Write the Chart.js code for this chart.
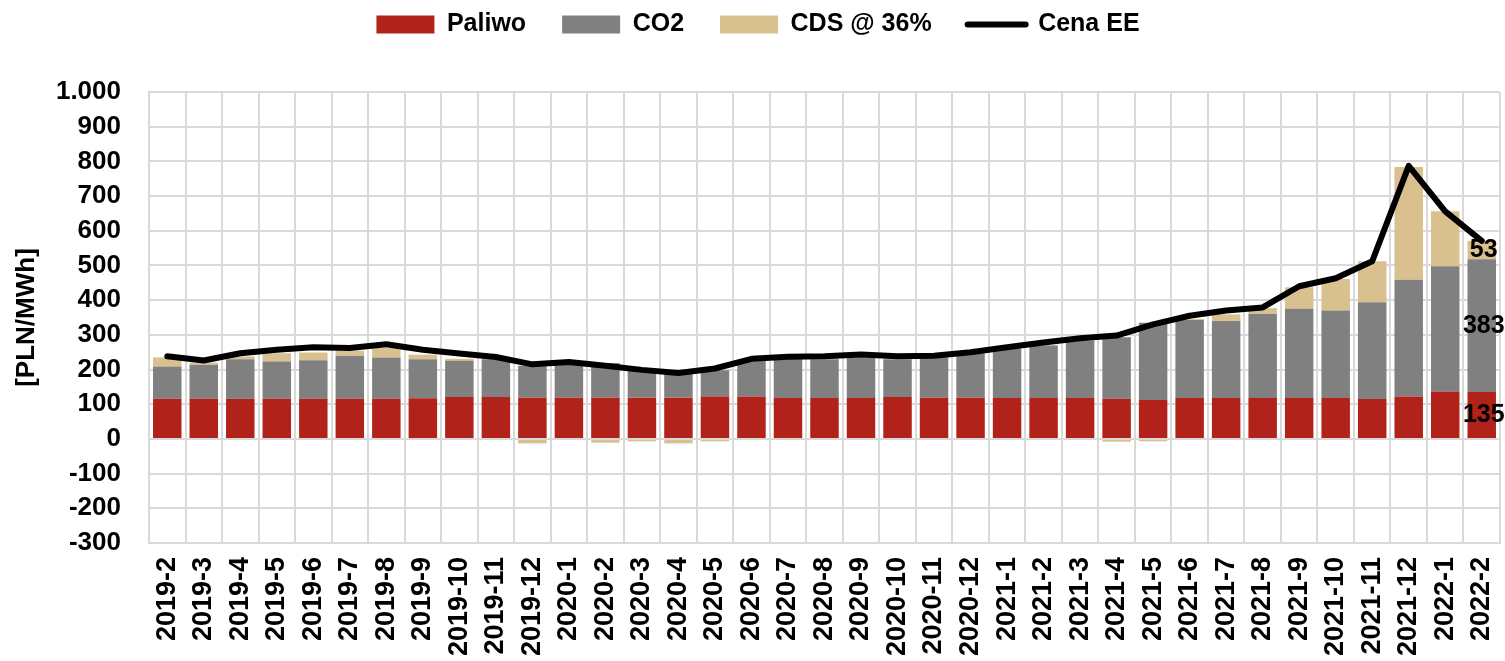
<!DOCTYPE html>
<html>
<head>
<meta charset="utf-8">
<script src="https://cdn.jsdelivr.net/npm/chart.js@4.4.1/dist/chart.umd.min.js"></script>
<style>
  html, body { margin: 0; padding: 0; background: #ffffff; }
  #wrap { width: 1505px; height: 661px; position: relative; }
</style>
</head>
<body>
<div id="wrap"><canvas id="c" width="1505" height="661"></canvas></div>
<script>
const categories = [
  '2019-2','2019-3','2019-4','2019-5','2019-6','2019-7','2019-8','2019-9','2019-10','2019-11','2019-12',
  '2020-1','2020-2','2020-3','2020-4','2020-5','2020-6','2020-7','2020-8','2020-9','2020-10','2020-11','2020-12',
  '2021-1','2021-2','2021-3','2021-4','2021-5','2021-6','2021-7','2021-8','2021-9','2021-10','2021-11','2021-12',
  '2022-1','2022-2'
];
const paliwo = [
  116,116,116,116,116,116,116,117,121,121,119,
  119,119,119,119,122,122,118,118,118,121,119,119,
  118,118,118,116,112,118,118,118,118,118,115,122,
  137,135
];
const co2 = [
  93,98,114,107,111,124,119,113,104,109,92,
  102,100,78,68,76,103,117,112,117,109,116,128,
  141,151,165,177,223,225,222,242,257,252,279,337,
  361,383
];
const cds = [
  26,6,8,24,22,14,27,13,6,2,-13,
  2,-11,-7,-13,-7,3,-2,2,2,2,2,2,
  2,2,2,-8,-7,3,19,17,62,91,118,325,
  158,53
];
const cenaEE = [
  238,226,247,257,264,262,273,257,246,236,215,
  222,211,199,190,203,231,237,238,243,238,240,250,
  264,278,290,298,330,355,370,379,440,463,512,787,
  656,571
];
const yTicks = [-300,-200,-100,0,100,200,300,400,500,600,700,800,900,1000];

const FONT = "'Liberation Sans', Arial, sans-serif";
Chart.defaults.font.family = FONT;
Chart.defaults.font.weight = 'bold';
Chart.defaults.color = '#000000';

function fmt(v) {
  const s = Math.abs(v).toString();
  const withSep = s.length > 3 ? s.slice(0, s.length - 3) + '.' + s.slice(s.length - 3) : s;
  return (v < 0 ? '-' : '') + withSep;
}

const lastLabels = {
  id: 'lastLabels',
  afterDatasetsDraw(chart) {
    const ctx = chart.ctx;
    ctx.save();
    ctx.font = "bold 25px " + FONT;
    ctx.fillStyle = '#000000';
    ctx.textAlign = 'center';
    ctx.textBaseline = 'middle';
    [0, 1, 2].forEach(di => {
      const meta = chart.getDatasetMeta(di);
      const idx = meta.data.length - 1;
      const el = meta.data[idx];
      const val = chart.data.datasets[di].data[idx];
      ctx.fillText(String(val), el.x + 2, (el.y + el.base) / 2);
    });
    ctx.restore();
  }
};

const legendShift = {
  id: 'legendShift',
  beforeLayout(chart) {
    const lg = chart.legend;
    if (lg && !lg._patched) {
      const orig = lg.fit;
      lg.fit = function () { orig.call(this); this.height = 92; };
      lg._patched = true;
    }
  },
  afterLayout(chart) {
    const lg = chart.legend;
    lg.top -= 24; lg.bottom -= 24;
    lg.left += 8; lg.right += 8;
  }
};

new Chart(document.getElementById('c'), {
  type: 'bar',
  data: {
    labels: categories,
    datasets: [
      { label: 'Paliwo', data: paliwo, backgroundColor: '#B1231A', stack: 'a', order: 2,
        categoryPercentage: 1.0, barPercentage: 0.78 },
      { label: 'CO2', data: co2, backgroundColor: '#808080', stack: 'a', order: 2,
        categoryPercentage: 1.0, barPercentage: 0.78 },
      { label: 'CDS @ 36%', data: cds, backgroundColor: '#D9C18F', stack: 'a', order: 2,
        categoryPercentage: 1.0, barPercentage: 0.78 },
      { label: 'Cena EE', data: cenaEE, type: 'line', stack: 'b', order: 0,
        borderColor: '#000000', backgroundColor: '#000000', borderWidth: 6,
        pointRadius: 0, tension: 0, borderJoinStyle: 'round', borderCapStyle: 'round',
        pointStyle: 'line' }
    ]
  },
  options: {
    responsive: false,
    animation: false,
    layout: { padding: { left: 0, right: 5, top: 0, bottom: 0 } },
    plugins: {
      tooltip: { enabled: false },
      legend: {
        position: 'top',
        align: 'center',
        labels: {
          font: { size: 25, weight: 'bold', family: FONT },
          color: '#000000',
          usePointStyle: true,
          pointStyleWidth: 58,
          boxHeight: 18,
          padding: 36,
          generateLabels(chart) {
            return chart.data.datasets.map((ds, i) => ({
              text: ds.label,
              fillStyle: ds.type === 'line' ? '#000000' : ds.backgroundColor,
              strokeStyle: ds.type === 'line' ? '#000000' : ds.backgroundColor,
              lineWidth: ds.type === 'line' ? 6 : 0,
              pointStyle: ds.type === 'line' ? 'line' : 'rect',
              lineCap: 'round',
              hidden: false,
              datasetIndex: i,
              fontColor: '#000000'
            }));
          }
        }
      }
    },
    scales: {
      x: {
        stacked: true,
        offset: true,
        grid: { offset: true, color: '#D9D9D9', lineWidth: 2, drawTicks: false },
        border: { color: '#D9D9D9', width: 2 },
        ticks: {
          autoSkip: false, maxRotation: 90, minRotation: 90, padding: 14,
          font: { size: 27, weight: 'bold', family: FONT }, color: '#000000'
        },
        afterFit(scale) {
          scale.height = 118;
          scale.paddingLeft = 0;
          scale.paddingRight = 0;
        }
      },
      y: {
        stacked: true,
        min: -300, max: 1000,
        afterBuildTicks(scale) { scale.ticks = yTicks.map(v => ({ value: v })); },
        grid: { color: '#D9D9D9', lineWidth: 2, drawTicks: false },
        border: { color: '#D9D9D9', width: 2 },
        ticks: {
          padding: 28,
          font: { size: 26, weight: 'bold', family: FONT }, color: '#000000',
          callback: (v) => fmt(v)
        },
        title: {
          display: true, text: '[PLN/MWh]', color: '#000000',
          font: { size: 26, weight: 'bold', family: FONT },
          padding: { top: 11, bottom: 4 }
        },
        afterFit(scale) {
          scale.width = 149;
        }
      }
    }
  },
  plugins: [lastLabels, legendShift]
});
</script>
</body>
</html>
